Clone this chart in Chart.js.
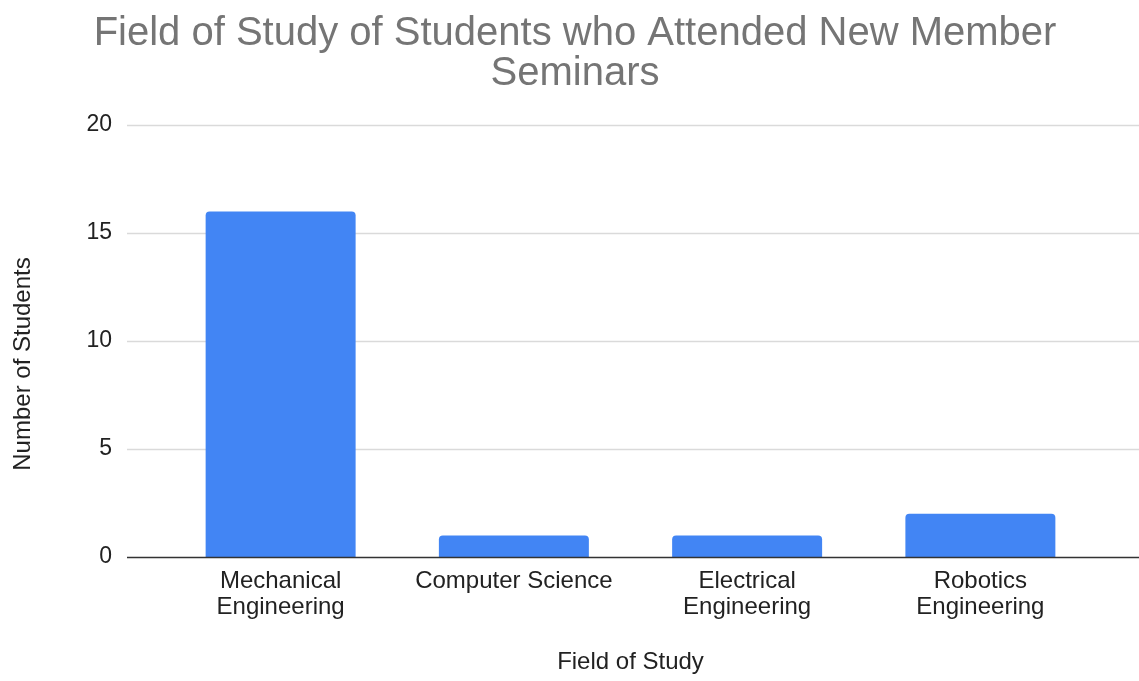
<!DOCTYPE html>
<html>
<head>
<meta charset="utf-8">
<title>Field of Study</title>
<script src="https://cdn.jsdelivr.net/npm/chart.js@4.4.1/dist/chart.umd.min.js"></script>
<style>
  html, body { margin: 0; padding: 0; background: #fff; }
  #wrap { width: 1139px; height: 681px; }
</style>
</head>
<body>
<div id="wrap"><canvas id="fieldChart" width="1139" height="681"></canvas></div>
<script>
const fields = [['Mechanical', 'Engineering'], 'Computer Science', ['Electrical', 'Engineering'], ['Robotics', 'Engineering']]
const students = [16, 1, 1, 2]
const yMax = 20
const yStep = 5

const titleLines = ['Field of Study of Students who Attended New Member', 'Seminars']
const xTitle = 'Field of Study'
const yTitle = 'Number of Students'

const FONT = "'Liberation Sans', Arial, Helvetica, sans-serif"
const GRID_LEFT = 127

// horizontal gridlines run wider than the bar area, so draw them here
const wideGrid = {
  id: 'wideGrid',
  beforeDatasetsDraw(chart) {
    const y = chart.scales.y
    const c = chart.ctx
    c.save()
    c.strokeStyle = '#dadada'
    c.lineWidth = 1.5
    y.ticks.forEach(t => {
      if (t.value === 0) return
      const py = Math.round(y.getPixelForValue(t.value)) + 0.5
      c.beginPath()
      c.moveTo(GRID_LEFT, py)
      c.lineTo(chart.width, py)
      c.stroke()
    })
    c.restore()
  },
  afterDatasetsDraw(chart) {
    const y = chart.scales.y
    const c = chart.ctx
    const py = Math.round(y.getPixelForValue(0)) + 0.5
    c.save()
    c.strokeStyle = '#333'
    c.lineWidth = 1.5
    c.beginPath()
    c.moveTo(GRID_LEFT, py)
    c.lineTo(chart.width, py)
    c.stroke()
    // vertical axis title
    c.fillStyle = '#222'
    c.font = '24px ' + FONT
    c.textAlign = 'center'
    c.textBaseline = 'middle'
    c.translate(23, 364)
    c.rotate(-Math.PI / 2)
    c.fillText(yTitle, 0, 0)
    c.restore()
  }
}

const ctx = document.getElementById('fieldChart').getContext('2d')

const fieldChart = new Chart(ctx, {
  type: 'bar',
  data: {
    labels: fields,
    datasets: [{
      label: yTitle,
      data: students,
      backgroundColor: '#4285f4',
      borderRadius: 4,
      borderSkipped: 'bottom',
      barPercentage: 1,
      categoryPercentage: 0.643
    }]
  },
  options: {
    responsive: false,
    animation: false,
    layout: {
      padding: { left: 53, right: 42, top: 0, bottom: 0 }
    },
    plugins: {
      legend: { display: false },
      tooltip: { enabled: false },
      title: {
        display: true,
        text: titleLines,
        color: '#757575',
        font: { family: FONT, size: 40, weight: 'normal', lineHeight: 1.0 },
        padding: { top: 14, bottom: 31 }
      }
    },
    scales: {
      x: {
        grid: { display: false, drawTicks: false },
        border: { display: false },
        ticks: {
          color: '#222',
          font: { family: FONT, size: 24, lineHeight: 1.1 },
          padding: 11,
          maxRotation: 0,
          autoSkip: false
        },
        title: {
          display: true,
          text: xTitle,
          color: '#222',
          font: { family: FONT, size: 24 },
          padding: { top: 0, bottom: 4 }
        },
        afterFit(scale) { scale.height = 124 }
      },
      y: {
        min: 0,
        max: yMax,
        grid: { display: false, drawTicks: false },
        border: { display: false },
        ticks: {
          stepSize: yStep,
          color: '#222',
          font: { family: FONT, size: 23 },
          padding: 52
        },
        afterFit(scale) { scale.width = 111 }
      }
    }
  },
  plugins: [wideGrid]
})
</script>
</body>
</html>
